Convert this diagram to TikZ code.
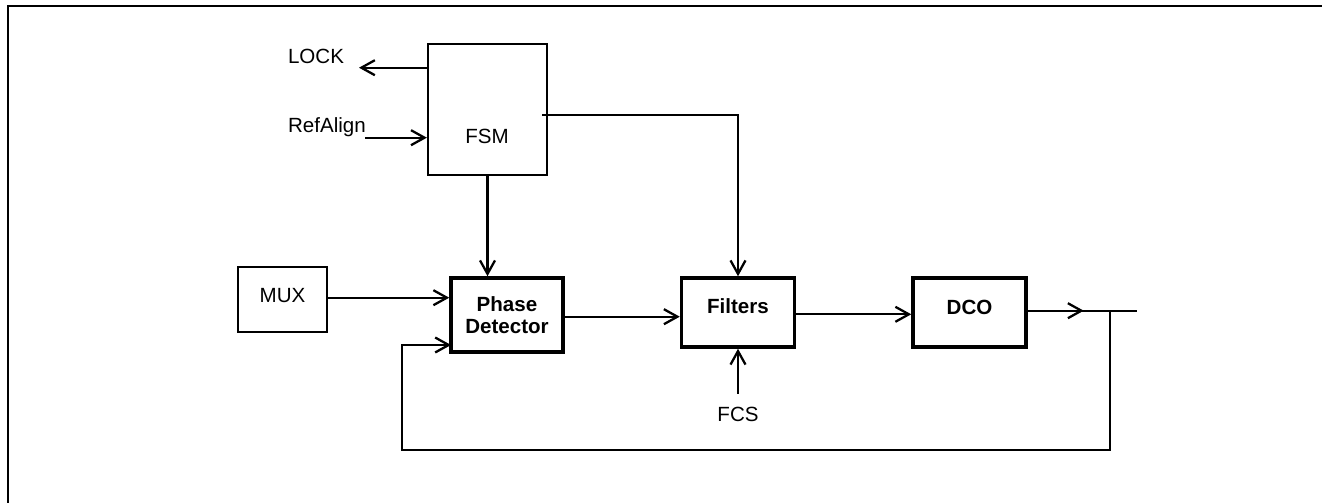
\documentclass[tikz,border=0pt]{standalone}
\usepackage{fontspec}
\setmainfont{Liberation Sans}
\usetikzlibrary{arrows.meta}

\newcommand\dgmfont{\fontsize{11.7}{12.2}\selectfont}

\begin{document}
\begin{tikzpicture}[x=0.02cm,y=-0.02cm,line width=1.3pt,
  blk/.style={draw,line width=1.3pt,inner sep=0pt,font=\dgmfont},
  bblk/.style={draw,line width=2pt,inner sep=0pt,align=center,font=\dgmfont\bfseries},
  lbl/.style={font=\dgmfont},
  arr/.style={-{Straight Barb[length=2.7mm,width=3mm]}}]
\useasboundingbox (0,0) rectangle (1323,503);
\draw[line width=1.6pt] (8,503)--(8,6)--(1322,6);

 \node[blk,minimum width=2.38cm,minimum height=2.62cm] (fsm) at (487.5,109.5) {};
 \node[lbl] (fsmtxt) at (487,136) {FSM};
 \node[blk,minimum width=1.78cm,minimum height=1.3cm,text depth=0.16cm] (mux) at (282.5,299.5) {MUX};
 \node[bblk,minimum width=2.24cm,minimum height=1.48cm] (pd) at (507,315) {Phase\\Detector};
 \node[bblk,minimum width=2.26cm,minimum height=1.38cm,text depth=0.24cm] (filt) at (738,312.5) {Filters};
 \node[bblk,minimum width=2.26cm,minimum height=1.38cm,text depth=0.22cm] (dco) at (969.5,312.5) {DCO};

 \node[lbl] (lock) at (316,56) {LOCK};
 \node[lbl] (refalign) at (327,127) {RefAlign};
 \node[lbl,inner sep=1pt] (fcs) at (738,414) {FCS};

 \coordinate (lockend) at (359,67.7);
 \coordinate (refin) at (365,137.7);
 \coordinate (fsmout) at (542,114.7);
 \coordinate (tap) at (1110,310.7);
 \coordinate (outend) at (1137,310.7);
 \coordinate (fbturn) at (402,450);
 \coordinate (fbin) at (451,345);

 \draw[arr] (fsm.west |- lockend)--(lockend);
 \draw[arr] (refin)--(fsm.west |- refin);
 \draw[arr] (fsmout)-|(filt.north);
 \draw[arr] (fsm.south)--(fsm.south |- pd.north);
 \draw[arr] (mux.east |- 0,297.7)--(pd.west |- 0,297.7);
 \draw[arr] (pd.east |- 0,316.7)--(filt.west |- 0,316.7);
 \draw[arr] (filt.east |- 0,314.3)--(dco.west |- 0,314.3);
 \draw[arr] ([yshift=0.2cm]fcs.north)--(filt.south);
 \draw[arr] (dco.east |- tap)--++(56,0);
 \draw (dco.east |- tap)--(outend);
 \draw[arr] (tap)|-(fbturn)|-(fbin);

 \end{tikzpicture}
\end{document}
